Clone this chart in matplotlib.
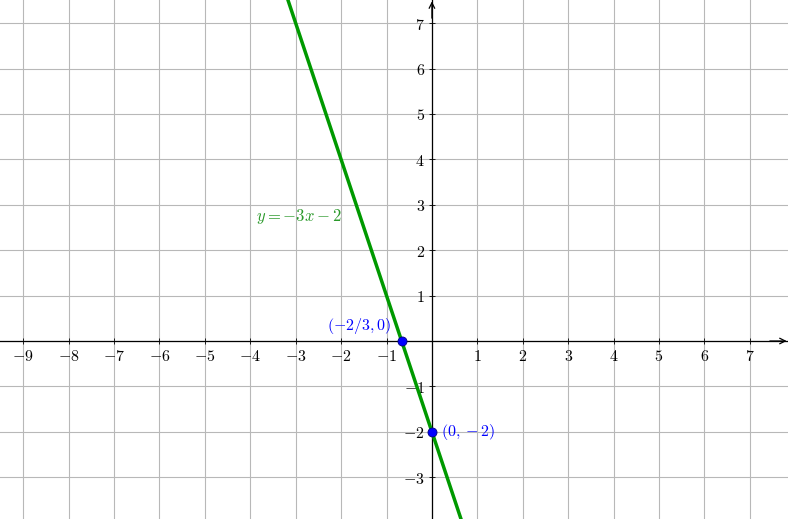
import matplotlib
matplotlib.use("Agg")
import matplotlib.pyplot as plt
import numpy as np
from matplotlib.ticker import FuncFormatter

plt.rcParams['mathtext.fontset'] = 'cm'
plt.rcParams['font.family'] = 'DejaVu Serif'

# data
slope = -3
intercept = -2
x_ticks = list(range(-9, 8))
y_ticks = list(range(-3, 8))
points_x = [-2/3, 0]
points_y = [0, -2]
point_labels = [r'$(-2/3,0)$', r'$(0,-2)$']
line_label = r'$y=-3x-2$'
xlim = (-9.51, 7.84)
ylim = (-3.92, 7.51)

fig = plt.figure(figsize=(7.88, 5.19), dpi=100)
ax = fig.add_axes([0, 0, 1, 1])
ax.set_xlim(*xlim)
ax.set_ylim(*ylim)

ax.set_xticks(x_ticks)
ax.set_yticks(y_ticks)
ax.grid(True, color='#b8b8b8', linewidth=0.8)
ax.set_axisbelow(True)

for s in ['top', 'right']:
    ax.spines[s].set_visible(False)
ax.spines['left'].set_position(('data', 0))
ax.spines['bottom'].set_position(('data', 0))
for s in ['left', 'bottom']:
    ax.spines[s].set_linewidth(0.9)
    ax.spines[s].set_zorder(3)

fmt = FuncFormatter(lambda v, p: '' if v == 0 else r'$%d$' % v)
ax.xaxis.set_major_formatter(fmt)
ax.yaxis.set_major_formatter(fmt)
ax.tick_params(axis='both', direction='inout', length=4, width=0.6, labelsize=11.5, pad=3)

# arrows
ax.annotate('', xy=(xlim[1] - 0.03, 0), xytext=(xlim[1] - 0.4, 0),
            arrowprops=dict(arrowstyle='->', lw=0.9, color='black', shrinkA=0, shrinkB=0), zorder=4)
ax.annotate('', xy=(0, ylim[1] - 0.03), xytext=(0, ylim[1] - 0.4),
            arrowprops=dict(arrowstyle='->', lw=0.9, color='black', shrinkA=0, shrinkB=0), zorder=4)

xs = np.linspace(-4, 1, 100)
ax.plot(xs, slope * xs + intercept, color='#009900', linewidth=2.5, zorder=5)

ax.plot(points_x, points_y, 'o', color='blue', markeredgecolor='#000080',
        markeredgewidth=0.6, markersize=6.5, zorder=6)

ax.text(-3.87, 2.75, line_label, color='#2a992a', fontsize=12, ha='left', va='center')
ax.text(points_x[0] - 0.22, points_y[0] + 0.33, point_labels[0], color='blue',
        fontsize=11.5, ha='right', va='center')
ax.text(points_x[1] + 0.2, points_y[1], point_labels[1], color='blue',
        fontsize=11.5, ha='left', va='center')

fig.savefig('out.png', dpi=100)
